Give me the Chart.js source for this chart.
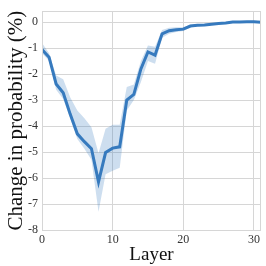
<!DOCTYPE html>
<html>
<head>
<meta charset="utf-8">
<script src="https://cdn.jsdelivr.net/npm/chart.js@4/dist/chart.umd.min.js"></script>
<style>
    html, body { margin: 0; padding: 0; background: #ffffff; }
    #contenedor { width: 266px; height: 266px; }
</style>
</head>
<body>
<div id="contenedor"><canvas id="myChartCapas"></canvas></div>
<script>
// Datos
const capas = [0, 1, 2, 3, 4, 5, 6, 7, 8, 9, 10, 11, 12, 13, 14, 15, 16, 17, 18, 19, 20, 21, 22, 23, 24, 25, 26, 27, 28, 29, 30, 31];
const cambioMedio = [-1.05, -1.35, -2.38, -2.72, -3.55, -4.3, -4.6, -4.87, -6.15, -5.02, -4.85, -4.8, -3.0, -2.78, -1.8, -1.15, -1.27, -0.45, -0.33, -0.29, -0.27, -0.15, -0.12, -0.11, -0.08, -0.05, -0.03, 0.0, 0.0, 0.01, 0.01, -0.01];
const limiteSuperior = [-0.8, -1.2, -2.05, -2.2, -2.9, -3.4, -3.7, -4.05, -5.05, -4.1, -3.95, -3.95, -2.5, -2.4, -1.5, -0.9, -0.95, -0.3, -0.22, -0.2, -0.2, -0.1, -0.08, -0.07, -0.05, -0.02, 0.0, 0.02, 0.02, 0.03, 0.03, 0.01];
const limiteInferior = [-1.2, -1.5, -2.6, -2.96, -3.7, -4.5, -4.87, -5.3, -7.3, -5.85, -5.72, -5.6, -3.4, -3.0, -2.3, -1.5, -1.6, -0.6, -0.45, -0.38, -0.34, -0.2, -0.16, -0.15, -0.11, -0.08, -0.06, -0.02, -0.02, -0.01, -0.01, -0.03];
const ticksX = [0, 10, 20, 30];
const ticksY = [-8, -7, -6, -5, -4, -3, -2, -1, 0];

const fuenteSerif = "'Liberation Serif', 'Times New Roman', serif";
const colorLinea = 'rgb(54, 122, 190)';
const colorBanda = 'rgba(54, 122, 190, 0.25)';
const colorGrilla = '#d6d6d6';

function puntos(valores) {
    return capas.map((c, i) => ({ x: c, y: valores[i] }));
}

// Marco alrededor del area del grafico
const marco = {
    id: 'marco',
    afterDatasetsDraw(chart) {
        const a = chart.chartArea;
        const ctx = chart.ctx;
        ctx.save();
        ctx.strokeStyle = colorGrilla;
        ctx.lineWidth = 1;
        ctx.strokeRect(Math.round(a.left) + 0.5, Math.round(a.top) + 0.5, Math.round(a.right - a.left) - 1, Math.round(a.bottom - a.top));
        ctx.restore();
    }
};

const ctxCapas = document.getElementById('myChartCapas');
const myChartCapas = new Chart(ctxCapas, {
    type: 'line',
    data: {
        datasets: [
            {
                label: 'inferior',
                data: puntos(limiteInferior),
                borderWidth: 0,
                pointRadius: 0,
                fill: false,
                order: 2
            },
            {
                label: 'superior',
                data: puntos(limiteSuperior),
                borderWidth: 0,
                pointRadius: 0,
                backgroundColor: colorBanda,
                fill: '-1',
                order: 1
            },
            {
                label: 'Cambio',
                data: puntos(cambioMedio),
                borderColor: colorLinea,
                borderWidth: 3,
                pointRadius: 0,
                fill: false,
                order: 0
            }
        ]
    },
    options: {
        responsive: true,
        maintainAspectRatio: false,
        animation: false,
        layout: { padding: { top: 2, right: 5, left: 0, bottom: 0 } },
        plugins: {
            legend: { display: false },
            tooltip: { enabled: false }
        },
        scales: {
            x: {
                type: 'linear',
                min: 0,
                max: 31,
                afterBuildTicks: (scale) => { scale.ticks = ticksX.map(v => ({ value: v })); },
                afterFit: (scale) => { scale.height = 36; },
                grid: { color: colorGrilla, drawTicks: false },
                border: { display: false },
                ticks: {
                    padding: 3,
                    color: '#333',
                    font: { family: fuenteSerif, size: 12 }
                },
                title: {
                    display: true,
                    text: 'Layer',
                    color: '#111',
                    padding: { top: 0, bottom: 0 },
                    font: { family: fuenteSerif, size: 19 }
                }
            },
            y: {
                min: -8,
                max: 0.42,
                afterBuildTicks: (scale) => { scale.ticks = ticksY.map(v => ({ value: v })); },
                afterFit: (scale) => { scale.width = 42; },
                grid: { color: colorGrilla, drawTicks: false },
                border: { display: false },
                ticks: {
                    padding: 4,
                    color: '#333',
                    font: { family: fuenteSerif, size: 12 }
                },
                title: {
                    display: true,
                    text: 'Change in probability (%)',
                    color: '#111',
                    padding: { top: 4, bottom: 0 },
                    font: { family: fuenteSerif, size: 21 }
                }
            }
        }
    },
    plugins: [marco]
});
</script>
</body>
</html>
